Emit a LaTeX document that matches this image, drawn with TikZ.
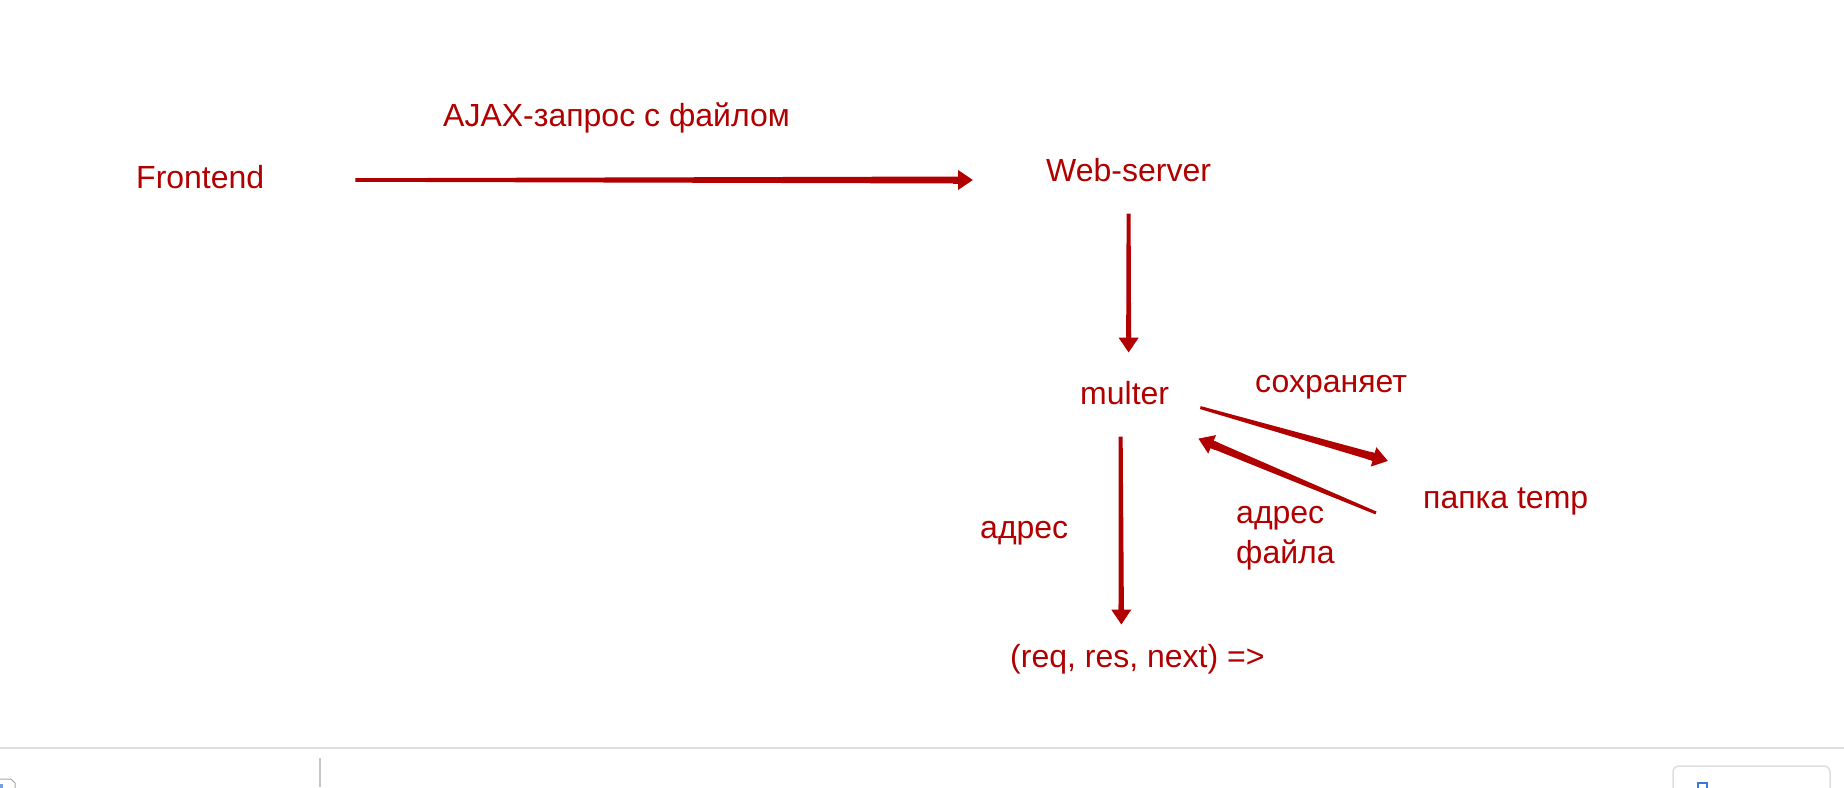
\documentclass[tikz,border=0pt]{standalone}
\usepackage{fontspec}
\setmainfont{Liberation Sans}
\usetikzlibrary{arrows.meta,calc}
\definecolor{ink}{RGB}{176,0,0}
\definecolor{tabblue}{RGB}{60,120,215}
\tikzset{
	lbl/.style={text=ink, inner sep=0pt, anchor=base west, font=\fontsize{32}{40}\selectfont},
	arr/.style={draw=ink, line width=#1, -{Triangle[width=19pt,length=15pt]}},
	arr/.default=4pt,
	chrome/.style={draw=black!13, line width=1.5pt}
}
% arrow whose shaft grows from half width #3 to half width #4
\newcommand{\taper}[4]{%
	\coordinate (hb) at ($(#2)!13pt!(#1)$);
	\fill[ink] ($(#1)!#3!90:(#2)$) -- ($(hb)!#4!-90:(#1)$) -- ($(hb)!#4!90:(#1)$) -- ($(#1)!#3!-90:(#2)$) -- cycle;
	\draw[arr=2*#4] ($(#2)!20pt!(#1)$) -- (#2);
}
\begin{document}
\begin{tikzpicture}[x=1pt,y=-1pt]
		\useasboundingbox (0,0) rectangle (1844,787);
		
		\node[lbl] (front) at (136,188) {Frontend};
		\node[lbl] (ajax)  at (443,126) {AJAX-запрос с файлом};
		\node[lbl] (web)   at (1046,181) {Web-server};
		\node[lbl] (multer) at (1080,404) {multer};
		\node[lbl] (save)  at (1255,392) {сохраняет};
		\node[lbl] (temp)  at (1423,508) {папка temp};
		\node[lbl] (addr)  at (980,538) {адрес};
		\node[lbl, align=left] (faddr) at (1236,563) {адрес\\файла};
		\node[lbl] (req)   at (1010,667) {(req, res, next) =>};
		
		% arrow ends next to the texts
		\coordinate (s1) at ([shift={(91,-8)}]front.base east);
		\coordinate (e1) at ([shift={(-73,-1)}]web.base west);
		\coordinate (s2) at ([shift={(0,32)}]web.south);
		\coordinate (e2) at ([shift={(4,-28)}]multer.north);
		\coordinate (s3) at ([shift={(-4,32)}]multer.south);
		\coordinate (e3) at ([shift={(-16,-19)}]req.north);
		\coordinate (s4) at ([shift={(31,15)}]multer.east);
		\coordinate (e4) at ([shift={(-35,-40)}]temp.west);
		\coordinate (s5) at ([shift={(-47,12)}]temp.west);
		\coordinate (e5) at ([shift={(29,46)}]multer.east);
		
		\taper{s1}{e1}{1.8pt}{3.5pt}
		\taper{s2}{e2}{2pt}{2.5pt}
		\taper{s3}{e3}{2pt}{2.6pt}
		\taper{s4}{e4}{1.5pt}{4pt}
		\taper{s5}{e5}{1.5pt}{4pt}
		
		% browser bar at the bottom
		\draw[chrome] (0,748) -- (1844,748);
		\draw[chrome, draw=black!22] (320,758) -- (320,787);
		\draw[chrome, rounded corners=6pt] (1673,790) -- (1673,766) -- (1830,766) -- (1830,790);
		\draw[tabblue, line width=1.5pt] (1698,790) -- (1698,783) -- (1707,783) -- (1707,790);
		\draw[black!35, line width=1pt] (0,779) -- (11,779) -- (15,783) -- (15,790);
		\fill[tabblue!70] (0,784) rectangle (3,790);
	\end{tikzpicture}
\end{document}
